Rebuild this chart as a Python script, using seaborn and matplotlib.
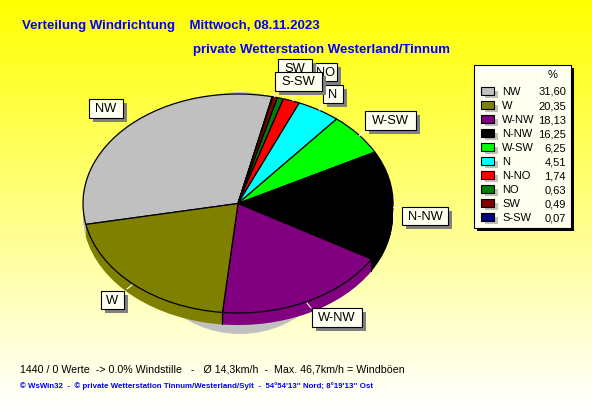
import numpy as np
import pandas as pd
import matplotlib.pyplot as plt
from matplotlib.patches import Rectangle, Ellipse
import seaborn as sns

# ---- data ----
LEGEND_NAMES = ["NW", "W", "W-NW", "N-NW", "W-SW", "N", "N-NO", "NO", "SW", "S-SW"]
LEGEND_VALUES = [31.60, 20.35, 18.13, 16.25, 6.25, 4.51, 1.74, 0.63, 0.49, 0.07]
LEGEND_COLORS = ["#c0c0c0", "#808000", "#800080", "#000000", "#00ff00",
                 "#00ffff", "#ff0000", "#008000", "#800000", "#000080"]
# clockwise order of the slices in the pie
PIE_ORDER = ["NW", "S-SW", "SW", "NO", "N-NO", "N", "W-SW", "N-NW", "W-NW", "W"]

TITLE_1 = "Verteilung Windrichtung    Mittwoch, 08.11.2023"
TITLE_2 = "private Wetterstation Westerland/Tinnum"
STATS = "1440 / 0 Werte  -> 0.0% Windstille   -   Ø 14,3km/h  -  Max. 46,7km/h = Windböen"
FOOTER = "© WsWin32  -  © private Wetterstation Tinnum/Westerland/Sylt  -  54°54'13'' Nord; 8°19'13'' Ost"

W, H = 592, 407
START_ANGLE = 191
DEPTH = 0.11
BOX_FILL = "#fffff0"

sns.set_theme(style="white")
plt.rcParams["font.family"] = ["Liberation Sans", "DejaVu Sans"]

df = pd.DataFrame({"name": LEGEND_NAMES, "value": LEGEND_VALUES, "color": LEGEND_COLORS})
pie_df = df.set_index("name").loc[PIE_ORDER]
palette = sns.color_palette(list(pie_df["color"]))

fig = plt.figure(figsize=(W / 100, H / 100), dpi=100)

# background gradient + shadow below the pie
bg = fig.add_axes([0, 0, 1, 1], zorder=0)
grad = np.linspace(0, 1, 256).reshape(-1, 1)
rgb = np.dstack([np.ones_like(grad), np.ones_like(grad), grad])
bg.imshow(rgb, extent=[0, W, H, 0], aspect="auto")
bg.set_xlim(0, W)
bg.set_ylim(H, 0)
bg.axis("off")
bg.add_patch(Ellipse((240, 213), 226, 242, color="#c0c0c0", lw=0))

# pie squashed into an ellipse, stacked to get the 3D side
ax = fig.add_axes([83 / W, 1 - 313 / H, 310 / W, 219 / H], zorder=1)
for d in np.linspace(DEPTH, 0.01, 12):
    ax.pie(pie_df["value"], colors=palette, startangle=START_ANGLE, counterclock=False,
           center=(0, -d), radius=1, wedgeprops={"linewidth": 0})
ax.pie(pie_df["value"], colors=palette, startangle=START_ANGLE, counterclock=False,
       center=(0, 0), radius=1, wedgeprops={"edgecolor": "black", "linewidth": 0.9})
ax.set_aspect("auto")
ax.set_xlim(-1, 1)
ax.set_ylim(-1, 1)

# vertical edges of the visible side
angles = np.deg2rad(START_ANGLE - np.cumsum(pie_df["value"]) * 3.6)
for a in angles:
    if np.sin(a) < -0.2:
        ax.plot([np.cos(a)] * 2, [np.sin(a), np.sin(a) - DEPTH], color="black", lw=0.9, clip_on=False)

# overlay for all texts and boxes
ov = fig.add_axes([0, 0, 1, 1], zorder=2)
ov.set_xlim(0, W)
ov.set_ylim(H, 0)
ov.axis("off")
ov.patch.set_alpha(0)

ov.text(22, 26.5, TITLE_1, color="#0000ff", fontsize=9.5, fontweight="bold", va="center")
ov.text(193, 49.5, TITLE_2, color="#0000ff", fontsize=9.5, fontweight="bold", va="center")
ov.text(20, 369, STATS, color="black", fontsize=7.66, va="center")
ov.text(20, 386, FOOTER, color="#0000ff", fontsize=5.65, fontweight="bold", va="center")

# slice labels: name, centre x, centre y, box w, box h
labels = [
    ("NW", 106, 108.5, 34, 19),
    ("N", 333, 94, 20, 18),
    ("NO", 326, 72, 22, 18),
    ("SW", 295, 69, 34, 20),
    ("S-SW", 298.5, 81.5, 47, 19),
    ("W-SW", 390.5, 120.5, 51, 19),
    ("N-NW", 425, 216, 46, 18),
    ("W-NW", 337, 317.5, 50, 19),
    ("W", 112.5, 300, 23, 18),
]
# white connector stubs between box and pie rim: x0, x1, y0, y1
connectors = [
    (365, 359, 131, 136), (323, 319, 105, 110), (393, 402, 207, 207),
    (127, 132, 289, 285), (307, 311, 303, 308), (273, 275, 92, 97),
    (282, 283, 92, 98), (292, 293, 92, 101), (320, 323, 110, 103),
]
for x0, x1, y0, y1 in connectors:
    ov.plot([x0, x1], [y0, y1], color="white", lw=0.8, zorder=2)
for i, (name, cx, cy, bw, bh) in enumerate(labels):
    z = 3 + i
    ov.add_patch(Rectangle((cx - bw / 2 + 3.5, cy - bh / 2 + 3.5), bw, bh, color="#808080", lw=0, zorder=z))
    ov.add_patch(Rectangle((cx - bw / 2, cy - bh / 2), bw, bh, fc=BOX_FILL, ec="black", lw=0.8, zorder=z))
    ov.text(cx, cy + 0.5, name, color="black", fontsize=9.3, ha="center", va="center", zorder=z)

# legend box
ov.add_patch(Rectangle((477, 68), 97, 163, color="black", lw=0, zorder=20))
ov.add_patch(Rectangle((474, 65), 97, 163, fc=BOX_FILL, ec="black", lw=0.8, zorder=21))
ov.text(553, 75, "%", fontsize=8, ha="center", va="center", color="black", zorder=22)
for i, row in df.iterrows():
    y = 91 + i * 14.04
    ov.add_patch(Rectangle((485, y), 13, 7, color="#c0c0c0", lw=0, zorder=22))
    ov.add_patch(Rectangle((481, y - 4), 13, 8, fc=row["color"], ec="black", lw=0.8, zorder=23))
    ov.text(502, y + 1, row["name"], fontsize=8, va="center", color="black", zorder=23)
    ov.text(566, y + 1, f"{row['value']:.2f}".replace(".", ","), fontsize=8, ha="right", va="center",
            color="black", zorder=23)

fig.savefig("out.png", dpi=100)
